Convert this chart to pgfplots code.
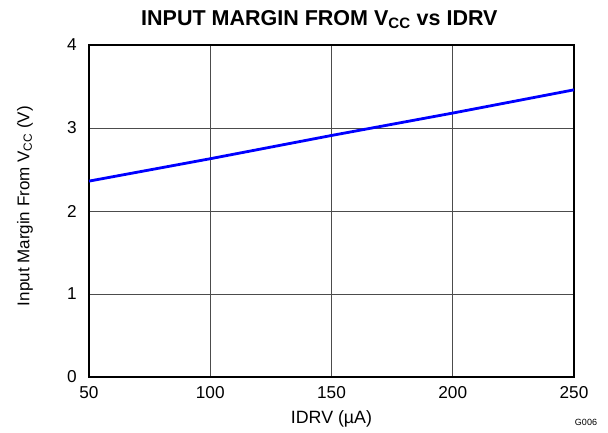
\documentclass[border=0pt]{standalone}
\usepackage{fontspec}
\setmainfont{Liberation Sans}
\usepackage{pgfplots}
\pgfplotsset{compat=1.18}
\begin{document}
\begin{tikzpicture}
\useasboundingbox (-89pt,-55pt) rectangle (519pt,377pt);
\begin{axis}[
  at={(0pt,0pt)}, anchor=south west,
  scale only axis, width=485pt, height=332pt,
  xmin=50, xmax=250, ymin=0, ymax=4,
  xtick={50,100,150,200,250}, ytick={0,1,2,3,4},
  /pgf/number format/assume math mode=true,
  ticklabel style={font=\fontsize{17.2}{19}\selectfont},
  major tick length=0pt,
  grid=major,
  major grid style={draw=black!70, line width=0.6pt},
  axis line style={line width=1.6pt},
  xticklabel style={anchor=base, yshift=-21.5pt},
  yticklabel style={anchor=east, inner sep=0pt, xshift=-12pt},
  xlabel={IDRV (µA)},
  ylabel={Input Margin From V\textsubscript{CC} (V)},
  xlabel style={font=\fontsize{17.8}{20}\selectfont, at={(axis description cs:0.5,0)}, anchor=base, yshift=-46pt},
  ylabel style={font=\fontsize{17}{19}\selectfont, at={(axis description cs:-0.132,0.515)}, anchor=center},
  title={\bfseries INPUT MARGIN FROM V\textsubscript{CC} vs IDRV},
  title style={font=\fontsize{21.5}{24}\selectfont, at={(axis description cs:0.475,1)}, anchor=base, yshift=14pt},
]
\addplot[blue, line width=2.8pt] coordinates {
(50,2.36) (100,2.63) (150,2.91) (200,3.18) (250,3.46)};
\end{axis}
\node[font=\fontsize{9}{10}\selectfont, anchor=center] at (497pt,-45pt) {G006};
\end{tikzpicture}
\end{document}
